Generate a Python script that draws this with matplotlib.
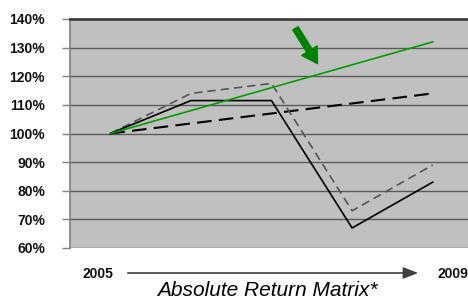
import matplotlib
matplotlib.use("Agg")
import matplotlib.pyplot as plt
from matplotlib.ticker import FuncFormatter

years = ["2005", "2006", "2007", "2008", "2009"]
black_solid = [100, 111.5, 111.5, 67, 83]
gray_dashed = [100, 114, 117.5, 73, 89]
black_dashed = [100, 103.5, 107, 110.5, 114]
green_line = [100, 108, 116, 124, 132]
yticks = [60, 70, 80, 90, 100, 110, 120, 130, 140]

plt.rcParams['font.family'] = ['Liberation Sans', 'DejaVu Sans']

fig = plt.figure(figsize=(4.68, 3.01), dpi=100)
ax = fig.add_axes([70/468, 1-248/301, (473-70)/468, (248-19)/301])
ax.set_facecolor('#C0C0C0')

x = list(range(len(years)))
ax.plot(x, black_dashed, color='black', lw=1.5, ls=(0, (7, 3.5)), zorder=3)
ax.plot(x, gray_dashed, color='#555555', lw=1.2, ls=(0, (5, 3)), zorder=3)
ax.plot(x, black_solid, color='black', lw=1.2, zorder=4)
ax.plot(x, green_line, color='#00A000', lw=1.2, zorder=4)

ax.set_xlim(-0.5, len(years) - 0.5)
ax.set_ylim(60, 140)
ax.set_yticks(yticks)
ax.yaxis.set_major_formatter(FuncFormatter(lambda v, p: f"{v:.0f}%"))
ax.set_xticks([])
ax.grid(axis='y', color='#5A5A5A', lw=1.0, zorder=1)
ax.set_axisbelow(True)
for s in ['right', 'bottom']:
    ax.spines[s].set_visible(False)
ax.spines['top'].set_color('#404040')
ax.spines['top'].set_linewidth(2)
ax.spines['left'].set_color('#808080')
ax.spines['left'].set_linewidth(1.2)
ax.tick_params(axis='y', length=6, width=1, color='#808080', pad=12,
               labelsize=10, labelcolor='#111111')
for t in ax.get_yticklabels():
    t.set_fontweight('bold')

# green highlight arrow (figure pixel coords)
fig.patches.append(matplotlib.patches.FancyArrowPatch(
    (294/468, 1-26/301), (319/468, 1-66/301), transform=fig.transFigure,
    arrowstyle='simple,head_length=1.1,head_width=1.3,tail_width=0.45',
    mutation_scale=10, color='#008000', zorder=10))

# bottom time arrow
fig.patches.append(matplotlib.patches.FancyArrowPatch(
    (125/468, 1-273/301), (421/468, 1-273/301), transform=fig.transFigure,
    arrowstyle='-|>,head_length=0.9,head_width=0.35', mutation_scale=10,
    color='#404040', lw=1.2))
fig.text(98/468, 1-274/301, years[0], ha='center', va='center',
         fontsize=10, fontweight='bold', color='#111111')
fig.text(437/468, 1-274/301, years[-1], ha='left', va='center',
         fontsize=10, fontweight='bold', color='#111111')
fig.text(267/468, 1-290/301, "Absolute Return Matrix*", ha='center',
         va='center', fontsize=15, style='italic')

fig.savefig("out.png", dpi=100)
